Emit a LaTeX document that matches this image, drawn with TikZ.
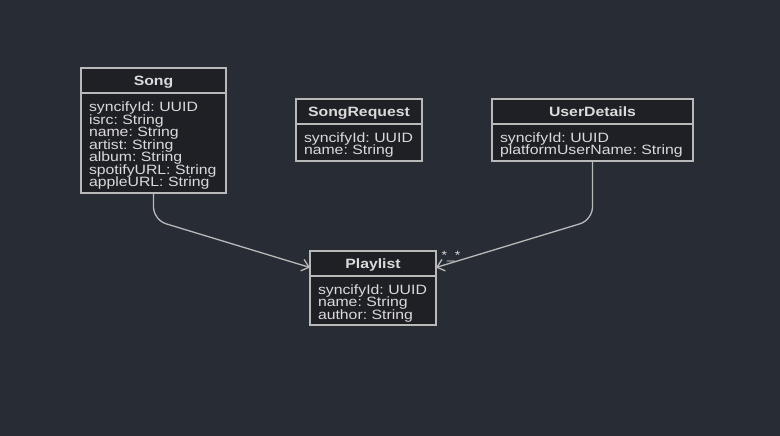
\documentclass[tikz,border=0pt]{standalone}
\usepackage{fontspec}
\setmainfont[FakeStretch=1.17]{Liberation Sans}
\usetikzlibrary{positioning,calc,arrows.meta}

\definecolor{bgcol}{RGB}{40,44,52}
\definecolor{boxcol}{RGB}{31,32,38}
\definecolor{linecol}{RGB}{185,185,185}
\definecolor{textcol}{RGB}{218,218,218}

\newcommand{\bodyfont}{\fontsize{13.5}{12.5}\selectfont\setlength{\lineskiplimit}{-20pt}}

\tikzset{
  classhead/.style={draw=linecol, fill=boxcol, text=textcol, line width=1.3pt, outer sep=0pt,
    font=\fontsize{13.5}{12.5}\selectfont\bfseries, minimum height=25pt, inner sep=0pt,
    text height=9.7pt, text depth=0pt, anchor=north west},
  classbody/.style={draw=linecol, fill=boxcol, text=textcol, line width=1.3pt, outer sep=0pt,
    font=\bodyfont, align=left, inner xsep=8pt, inner ysep=0pt,
    execute at begin node={\rule{0pt}{15pt}}},
  relation/.style={draw=linecol, line width=1.3pt, rounded corners=13pt,
    -{Straight Barb[length=7pt,width=12pt,line width=1.3pt]}}
}

\begin{document}
\begin{tikzpicture}[x=1pt,y=-1pt]
  \useasboundingbox[fill=bgcol] (0,0) rectangle (780,436);

  % classes
  \node[classhead, minimum width=145pt] (song) at (81,68) {Song};
  \node[classbody, text width=129pt, minimum height=100pt, below=0pt of song] (songbody)
    {syncifyId:~UUID\\isrc:~String\\name:~String\\artist:~String\\album:~String\\spotifyURL:~String\\appleURL:~String};

  \node[classhead, minimum width=126pt] (songrequest) at (296,99) {SongRequest};
  \node[classbody, text width=110pt, minimum height=37pt, below=0pt of songrequest] (songrequestbody)
    {syncifyId:~UUID\\name:~String};

  \node[classhead, minimum width=201pt] (userdetails) at (492,99) {UserDetails};
  \node[classbody, text width=185pt, minimum height=37pt, below=0pt of userdetails] (userdetailsbody)
    {syncifyId:~UUID\\platformUserName:~String};

  \node[classhead, minimum width=126pt] (playlist) at (310,251) {Playlist};
  \node[classbody, text width=110pt, minimum height=49pt, below=0pt of playlist] (playlistbody)
    {syncifyId:~UUID\\name:~String\\author:~String};

  % relations
  \coordinate (songbend) at ($(songbody.south)+(0,27)$);
  \coordinate (userbend) at ($(userdetailsbody.south)+(0,59)$);
  \draw[relation] (songbody.south) -- (songbend) -- ($(playlist.west)+(0,4)$);
  \draw[relation] (userdetailsbody.south) -- (userbend) -- ($(playlist.east)+(0,4)$);

  \node[text=textcol, font=\fontsize{12}{12}\selectfont] (card) at (451,257) {*\_*};
\end{tikzpicture}
\end{document}
